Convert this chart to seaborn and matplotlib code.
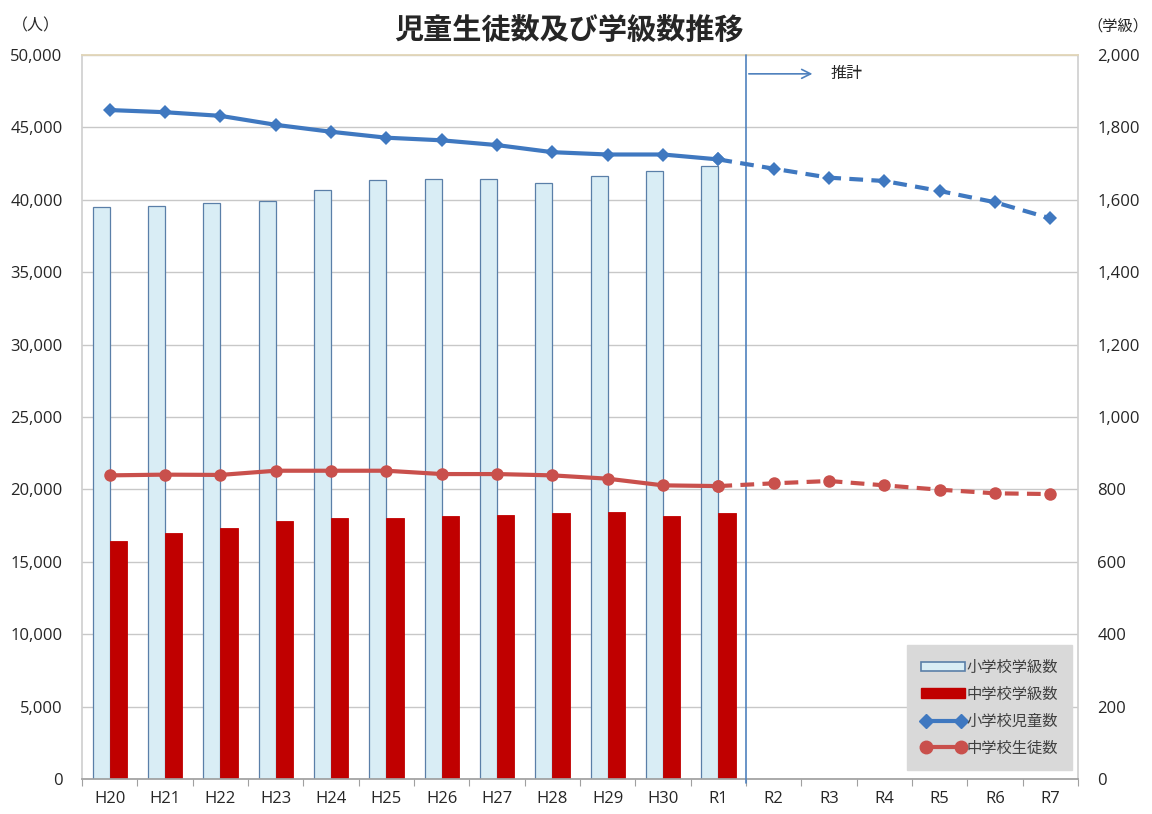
import numpy as np
import pandas as pd
import matplotlib
matplotlib.use("Agg")
import matplotlib.pyplot as plt
from matplotlib.lines import Line2D
from matplotlib.patches import Patch
from matplotlib.ticker import FuncFormatter, MultipleLocator
import seaborn as sns

# ---- data -------------------------------------------------------------
years = ["H20", "H21", "H22", "H23", "H24", "H25", "H26", "H27", "H28",
         "H29", "H30", "R1", "R2", "R3", "R4", "R5", "R6", "R7"]
n_actual = 12  # H20..R1 are actual figures, R2 onward are projections

elem_classes = [1579, 1583, 1590, 1597, 1627, 1655, 1657, 1657, 1647,
                1665, 1680, 1693]
junior_classes = [658, 679, 694, 713, 721, 721, 726, 730, 734,
                  737, 726, 734]
elem_students = [46200, 46050, 45800, 45180, 44700, 44290, 44110, 43780,
                 43290, 43130, 43130, 42790, 42150, 41530, 41300, 40610,
                 39830, 38720]
junior_students = [20970, 21020, 21000, 21290, 21290, 21290, 21060, 21060,
                   20970, 20740, 20280, 20230, 20420, 20580, 20280, 19980,
                   19730, 19680]

lab_ec = "小学校学級数"
lab_jc = "中学校学級数"
lab_es = "小学校児童数"
lab_js = "中学校生徒数"

# ---- style ------------------------------------------------------------
sns.set_theme(style="white")
plt.rcParams["font.family"] = ["Noto Sans CJK JP", "DejaVu Sans"]

c_ec_face, c_ec_edge = "#d9edf5", "#5a7fa8"
c_jc = "#c00000"
c_es = "#3f78c0"
c_js = "#c9504c"
grid_c = "#c8c8c8"
num_font = ["Open Sans", "DejaVu Sans"]

fig = plt.figure(figsize=(11.52, 8.14), dpi=100)
ax = fig.add_axes([0.0712, 0.043, 0.8646, 0.8894])  # classes (right scale)

# ---- bars: class counts ----------------------------------------------
bars = pd.DataFrame({
    "year": years[:n_actual] * 2,
    "value": elem_classes + junior_classes,
    "kind": [lab_ec] * n_actual + [lab_jc] * n_actual,
})
sns.barplot(data=bars, x="year", y="value", hue="kind", order=years,
            hue_order=[lab_ec, lab_jc], palette=[c_ec_face, c_jc],
            width=0.62, saturation=1, legend=False, ax=ax, zorder=2)
for p in ax.containers[0]:
    p.set_edgecolor(c_ec_edge)
    p.set_linewidth(0.9)
for p in ax.containers[1]:
    p.set_edgecolor(c_jc)
    p.set_linewidth(0.6)

ax.set_xlim(-0.5, len(years) - 0.5)
ax.set_ylim(0, 2000)
ax.yaxis.set_major_locator(MultipleLocator(200))
ax.yaxis.set_major_formatter(FuncFormatter(lambda v, _: f"{int(v):,}"))
ax.grid(axis="y", color=grid_c, linewidth=1.0)
ax.set_axisbelow(True)
ax.set_xlabel("")
ax.set_ylabel("")

# category labels centred, tick marks between categories
ax.set_xticks(np.arange(len(years)))
ax.set_xticklabels(years, family=num_font)
ax.set_xticks(np.arange(len(years) + 1) - 0.5, minor=True)
ax.tick_params(axis="x", which="major", length=0, pad=9, labelsize=12)
ax.tick_params(axis="x", which="minor", length=5, color="#a0a0a0",
               bottom=True, direction="out", width=0.8)

for side in ("left", "right"):
    ax.spines[side].set_color("#d0d0d0")
ax.spines["bottom"].set_color("#a0a0a0")
ax.spines["top"].set_color("#e2d6b8")
ax.spines["top"].set_linewidth(1.3)

# ---- lines: pupil counts (left scale) --------------------------------
ax2 = ax.twinx()
xpos = np.arange(len(years))
act = slice(0, n_actual)
proj = slice(n_actual - 1, len(years))
dash = (0, (3.3, 2.0))

for vals, col, mk, ms in ((elem_students, c_es, "D", 7),
                          (junior_students, c_js, "o", 9)):
    vals = np.asarray(vals)
    sns.lineplot(x=xpos[act], y=vals[act], ax=ax2, color=col, marker=mk,
                 markersize=ms, markeredgewidth=0, linewidth=3.0,
                 zorder=4)
    sns.lineplot(x=xpos[proj], y=vals[proj], ax=ax2, color=col, marker=mk,
                 markersize=ms, markeredgewidth=0, linewidth=3.0,
                 linestyle=dash, zorder=4)

ax2.set_ylim(0, 50000)
ax2.yaxis.set_major_locator(MultipleLocator(5000))
ax2.yaxis.set_major_formatter(FuncFormatter(lambda v, _: f"{int(v):,}"))
ax2.set_ylabel("")
ax2.grid(False)
for s in ax2.spines.values():
    s.set_visible(False)
ax2.set_xlim(-0.5, len(years) - 0.5)

# people on the left, classes on the right
ax2.yaxis.tick_left()
ax.yaxis.tick_right()
ax.tick_params(axis="y", left=False, labelleft=False, right=False,
               labelright=True, length=0, pad=14, labelsize=12)
ax2.tick_params(axis="y", right=False, labelright=False, left=False,
                labelleft=True, length=0, pad=14, labelsize=12)
for t in ax.get_yticklabels() + ax2.get_yticklabels():
    t.set_family(num_font)

# ---- boundary between actual and projected values ---------------------
split = n_actual - 0.5
ax2.plot([split, split], [-300, 50000], color="#4f81bd", linewidth=1.2,
         clip_on=False, zorder=3)
ax2.annotate("", xy=(split + 1.25, 48700), xytext=(split, 48700),
             arrowprops=dict(arrowstyle="->", color="#4f81bd", lw=1.2,
                             mutation_scale=16))
ax2.text(split + 1.52, 48700, "推計", fontsize=11.5, va="center", ha="left")

# ---- legend ----------------------------------------------------------
handles = [
    Patch(facecolor=c_ec_face, edgecolor=c_ec_edge, linewidth=1.2),
    Patch(facecolor=c_jc, edgecolor=c_jc),
    Line2D([0], [0], color=c_es, lw=3, marker="D", markersize=7),
    Line2D([0], [0], color=c_js, lw=3, marker="o", markersize=9),
]
leg = ax2.legend(handles, [lab_ec, lab_jc, lab_es, lab_js],
                 loc="lower right", bbox_to_anchor=(0.994, 0.012),
                 borderaxespad=0, frameon=True, fancybox=False,
                 fontsize=11, numpoints=2, handlelength=2.9,
                 handleheight=0.6, handletextpad=0.1, labelspacing=0.65,
                 borderpad=0.9)
leg.get_frame().set_facecolor("#d9d9d9")
leg.get_frame().set_edgecolor("#d9d9d9")
leg.get_frame().set_alpha(1)
for t in leg.get_texts():
    t.set_color("#404040")

# ---- titles and units ------------------------------------------------
fig.text(0.494, 0.963, "児童生徒数及び学級数推移", ha="center", va="center",
         fontsize=21, fontweight="bold")
fig.text(0.031, 0.968, "（人）", ha="center", va="center", fontsize=11.5)
fig.text(0.997, 0.968, "（学級）", ha="right", va="center", fontsize=11)

fig.savefig("out.png", dpi=100, facecolor="white")
